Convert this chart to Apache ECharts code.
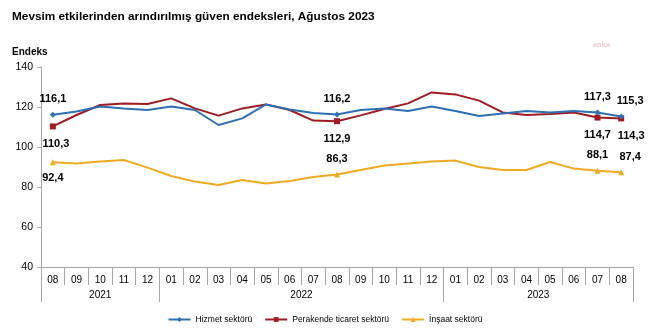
<!DOCTYPE html>
<html><head><meta charset="utf-8">
<script src="https://cdn.jsdelivr.net/npm/echarts@6/dist/echarts.min.js"></script>
<style>html,body{margin:0;padding:0;background:#fff}#c{width:650px;height:333px}</style>
</head><body><div id="c"></div>
<script>
var months = ['08','09','10','11','12','01','02','03','04','05','06','07','08','09','10','11','12','01','02','03','04','05','06','07','08'];
var years = ['2021','2022','2023'];
var yearBounds = [0, 5, 17, 25];
var hizmet = [116.1,117.7,120.2,119.3,118.5,120.2,118.5,111.0,114.3,121.3,118.8,117.0,116.2,118.5,119.3,118.0,120.2,118.0,115.5,116.8,118.0,117.3,118.0,117.3,115.3];
var perakende = [110.3,116.0,121.0,121.8,121.5,124.3,119.3,115.7,119.3,121.3,118.5,113.2,112.9,115.8,119.0,121.8,127.3,126.3,123.2,117.3,116.0,116.5,117.3,114.7,114.3];
var insaat = [92.4,91.8,92.8,93.5,89.7,85.5,82.7,81.0,83.5,81.8,83.0,85.0,86.3,88.5,90.8,91.7,92.7,93.2,90.0,88.5,88.5,92.5,89.2,88.1,87.4];
var seriesNames = ['Hizmet sektörü','Perakende ticaret sektörü','İnşaat sektörü'];
var colors = ['#2f6fb5','#9e1c22','#f0aa1f'];
var marked = [0, 12, 23, 24];

function build(vals, pos, offs) {
  return vals.map(function(v, i){
    var k = marked.indexOf(i);
    if (k < 0) return {value: v, symbol: 'none'};
    return {value: v, label: {show: true, position: pos[k], offset: offs[k]}};
  });
}
var fmt = function(p){ return p.value.toFixed(1).replace('.', ','); };
var lbl = {fontFamily:'Liberation Sans, Arial', fontSize: 11, fontWeight: 'bold', color: '#000', formatter: fmt, distance: 7};

var chart = echarts.init(document.getElementById('c'));
chart.setOption({
  animation: false,
  textStyle: {fontFamily: 'Liberation Sans, Arial'},
  title: [
    {text: 'Mevsim etkilerinden arındırılmış güven endeksleri, Ağustos 2023', left: 7, top: 6,
     textStyle: {fontSize: 11.8, fontWeight: 'bold', color: '#000', fontFamily: 'Liberation Sans, Arial'}},
    {text: 'Endeks', left: 7, top: 42, textStyle: {fontSize: 10, fontWeight: 'bold', color: '#000', fontFamily: 'Liberation Sans, Arial'}},
    {text: 'anka', left: 588, top: 35, textStyle: {fontSize: 9, fontWeight: 'normal', color: '#f4b8c0', fontFamily: 'Liberation Serif'}}
  ],
  legend: {
    bottom: 4, left: 'center', itemWidth: 22, itemHeight: 6, itemGap: 12,
    textStyle: {fontSize: 8.5, color: '#000'},
    data: seriesNames
  },
  grid: {left: 41, right: 17, top: 67, bottom: 66},
  xAxis: [
    {type: 'category', data: months, boundaryGap: true,
     axisLine: {lineStyle: {color: '#a6a6a6'}},
     axisTick: {show: true, interval: 0, alignWithLabel: false, length: 18, lineStyle: {color: '#a6a6a6'}},
     axisLabel: {interval: 0, margin: 8, fontSize: 10, color: '#000'}},
    {type: 'value', min: 0, max: 25, position: 'bottom',
     axisLine: {show: false},
     splitLine: {show: false},
     axisTick: {show: true, customValues: yearBounds, length: 35, lineStyle: {color: '#a6a6a6'}},
     axisLabel: {customValues: [2.5, 11, 21], margin: 23, fontSize: 10, color: '#000',
       formatter: function(v){ return v < 5 ? years[0] : (v < 17 ? years[1] : years[2]); }}}
  ],
  yAxis: {type: 'value', min: 40, max: 140, interval: 20,
    axisLine: {show: true, lineStyle: {color: '#a6a6a6'}},
    axisTick: {show: true, length: 4, lineStyle: {color: '#a6a6a6'}},
    splitLine: {show: false},
    axisLabel: {fontSize: 10.5, color: '#000', margin: 8}},
  series: [
    {name: seriesNames[0], type: 'line', color: colors[0], symbol: 'diamond', symbolSize: 6,
     lineStyle: {width: 2}, label: lbl, z: 3,
     data: build(hizmet, ['top','top','top','top'], [[0,0],[0,0],[0,0],[9,0]])},
    {name: seriesNames[1], type: 'line', color: colors[1], symbol: 'rect', symbolSize: 6,
     lineStyle: {width: 2}, label: lbl, z: 2,
     data: build(perakende, ['bottom','bottom','bottom','bottom'], [[3,2],[0,2],[0,2],[10,2]])},
    {name: seriesNames[2], type: 'line', color: colors[2], symbol: 'triangle', symbolSize: 6,
     lineStyle: {width: 2}, label: lbl, z: 2,
     data: build(insaat, ['bottom','top','top','top'], [[0,0],[0,0],[0,0],[9,0]])}
  ]
});
</script></body></html>
